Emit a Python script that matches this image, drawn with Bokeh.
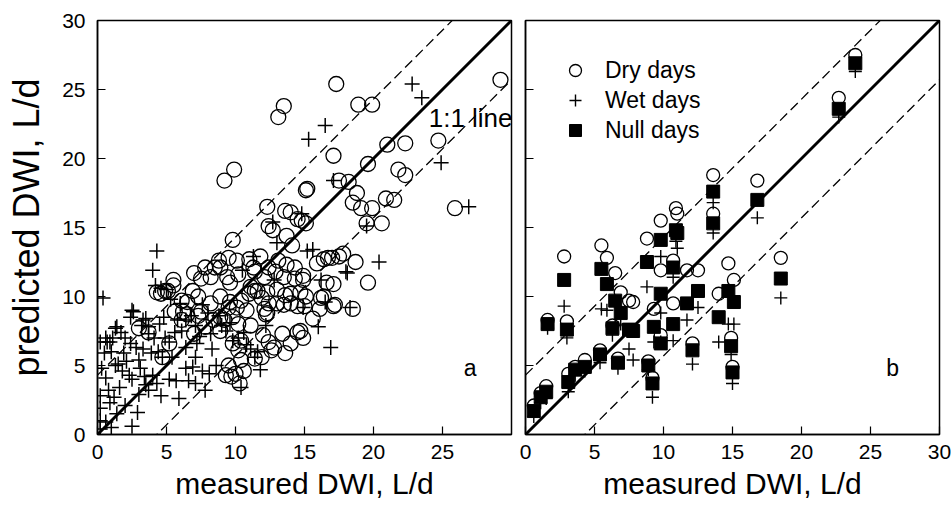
from bokeh.plotting import figure
from bokeh.layouts import row
from bokeh.models import Range1d, FixedTicker, Legend, LegendItem, Label
from bokeh.embed import file_html
from bokeh.resources import INLINE

FONT = "Liberation Sans"

# ---------------- data: panel a (individual days) ----------------
dry_measured = [13.5, 13.1, 9.9, 9.2, 15.1, 17.3, 18.9, 19.9, 29.2, 17.1,
                21.0, 22.3, 24.7, 19.6, 21.8, 22.3, 15.2, 17.5, 18.2, 18.8,
                18.5, 19.1, 19.9, 20.9, 21.5, 25.9, 19.5, 20.6, 12.3, 13.6,
                14.0, 14.5, 14.8, 15.1, 12.4, 12.7, 13.7, 9.8, 14.1, 8.8,
                9.5, 10.1, 11.0, 11.8, 11.3, 12.4, 13.1, 13.7, 14.3, 15.9,
                16.4, 17.0, 17.5, 17.8, 16.7, 18.7, 8.9, 7.8, 8.5, 8.2,
                9.4, 10.2, 11.4, 12.1, 12.9, 13.5, 14.3, 14.9, 16.6, 17.1,
                19.6, 5.5, 7.0, 7.5, 9.6, 14.9, 11.1, 11.6, 12.3, 13.0,
                13.6, 14.0, 14.7, 15.1, 16.4, 17.2, 4.3, 7.3, 6.5, 8.9,
                5.1, 4.6, 5.5, 4.9, 6.9, 6.1, 8.2, 9.6, 10.1, 10.8,
                12.1, 12.3, 13.0, 13.5, 14.0, 14.5, 15.0, 16.1, 6.2, 7.5,
                16.2, 17.1, 18.5, 9.5, 10.4, 11.0, 11.4, 11.9, 12.4, 9.2,
                9.8, 10.2, 11.1, 6.1, 6.5, 5.6, 7.3, 8.4, 8.9, 12.2,
                7.8, 12.4, 12.8, 13.4, 14.0, 14.5, 14.7, 3.0, 7.0, 12.0,
                8.9, 9.8, 10.2, 10.4, 9.5, 10.0, 10.6, 11.4, 12.6, 9.3,
                10.4, 13.6, 11.9, 5.2, 4.7, 9.7, 10.3, 14.9, 15.6, 3.7]
dry_predicted = [23.8, 23.0, 19.2, 18.4, 17.7, 25.4, 23.9, 23.9, 25.7, 20.2,
                 21.0, 21.1, 21.3, 19.6, 19.2, 18.8, 17.8, 18.4, 18.3, 17.5,
                 16.8, 16.4, 16.4, 17.1, 17.0, 16.4, 15.3, 15.3, 16.5, 16.2,
                 16.1, 15.6, 15.5, 15.3, 15.1, 14.8, 14.4, 14.1, 13.7, 12.6,
                 12.8, 12.6, 12.7, 12.9, 12.1, 12.1, 12.6, 12.3, 12.1, 12.4,
                 12.7, 12.8, 12.9, 13.1, 12.8, 12.5, 12.1, 12.1, 12.1, 11.4,
                 11.4, 11.6, 11.8, 11.4, 11.8, 11.4, 11.3, 11.5, 11.0, 10.9,
                 11.0, 11.2, 11.7, 11.3, 11.0, 11.2, 10.7, 10.4, 10.3, 10.5,
                 10.1, 10.2, 10.3, 10.0, 10.0, 9.4, 10.3, 10.0, 9.6, 10.0,
                 10.4, 10.2, 10.8, 10.4, 10.4, 9.7, 9.5, 9.6, 9.2, 9.0,
                 9.1, 8.8, 9.5, 9.4, 9.5, 9.3, 9.3, 9.1, 8.9, 8.9,
                 9.9, 9.3, 9.1, 9.2, 9.7, 10.2, 10.4, 9.9, 9.5, 8.3,
                 8.5, 8.0, 7.9, 8.3, 8.7, 8.9, 8.6, 8.3, 8.5, 8.7,
                 7.8, 6.7, 6.3, 7.3, 6.6, 7.4, 7.5, 7.7, 7.3, 7.2,
                 7.5, 6.6, 6.1, 5.4, 5.0, 4.4, 4.6, 5.5, 6.1, 4.3,
                 6.8, 5.9, 5.6, 6.6, 5.6, 4.2, 3.7, 7.0, 8.4, 7.4]

wet_measured = [15.3, 22.8, 23.5, 16.5, 24.9, 17.1, 26.9, 14.8, 13.0, 15.2,
                15.6, 12.7, 20.4, 18.1, 16.2, 16.0, 16.9, 18.0, 18.3, 19.5,
                4.3, 4.0, 4.2, 4.6, 5.0, 0.4, 2.6, 3.5, 1.3, 1.7,
                0.2, 0.7, 0.9, 2.4, 2.8, 3.7, 4.1, 4.9, 5.2, 4.4,
                4.7, 0.3, 1.3, 1.5, 3.0, 3.1, 2.3, 2.5, 1.6, 0.8,
                1.2, 0.9, 0.2, 0.2, 3.7, 3.5, 3.0, 2.9, 2.5, 0.2,
                5.9, 5.2, 5.7, 6.4, 6.6, 7.1, 7.6, 7.8, 6.4, 7.1,
                5.4, 8.2, 9.0, 8.3, 8.6, 9.3, 9.8, 10.2, 10.4, 11.1,
                11.4, 6.4, 7.1, 5.3, 4.8, 6.0, 10.6, 11.6, 14.9, 16.5,
                11.3, 10.5, 12.8, 1.0, 0.2, 1.9, 3.3, 2.0, 4.0, 6.1,
                7.2, 8.0, 0.5, 1.0, 2.0, 3.2, 4.5, 5.6, 6.8, 7.6,
                5.8, 3.9, 2.1, 0.6, 1.8, 3.4, 4.3, 1.4, 0.6, 4.6,
                6.9, 8.1, 7.4, 8.8, 9.6, 10.8, 12.2, 11.8, 2.4, 3.3,
                3.7, 1.4, 0.6, 1.1, 2.5]
wet_predicted = [21.4, 25.4, 24.4, 22.4, 19.7, 18.4, 16.5, 16.0, 13.9, 13.3,
                 13.4, 15.4, 12.5, 11.7, 11.2, 7.8, 6.3, 11.8, 9.2, 15.1,
                 13.3, 11.9, 10.8, 10.6, 10.5, 9.9, 8.9, 8.4, 7.7, 7.4,
                 6.7, 6.7, 6.7, 6.6, 6.3, 7.3, 7.0, 7.0, 6.7, 6.0,
                 5.6, 4.8, 5.0, 5.1, 5.4, 4.8, 4.3, 4.0, 3.4, 3.2,
                 2.7, 2.3, 2.8, 1.9, 3.2, 3.6, 2.9, 1.6, 0.6, 1.0,
                 2.6, 4.0, 3.9, 4.8, 3.9, 3.7, 4.6, 3.2, 6.3, 5.6,
                 5.6, 7.3, 7.9, 6.2, 5.0, 7.5, 6.8, 7.0, 3.4, 6.2,
                 5.6, 8.3, 7.9, 9.8, 8.5, 9.5, 7.4, 6.0, 9.2, 9.6,
                 12.9, 11.9, 11.2, 0.5, 0.4, 5.9, 6.2, 2.1, 4.3, 7.5,
                 6.6, 8.8, 5.9, 6.0, 7.0, 7.9, 8.0, 7.4, 8.6, 9.4,
                 8.3, 5.9, 5.3, 4.1, 4.6, 4.2, 3.7, 1.5, 0.9, 2.8,
                 4.9, 4.4, 7.1, 8.6, 8.1, 6.5, 7.9, 4.7, 8.5, 8.3,
                 7.8, 7.8, 7.0, 7.0, 9.0]

# ---------------- data: panel b (per subject) ----------------
measured_b = [0.6, 1.1, 1.5, 1.6, 2.8, 3.0, 3.1, 3.6, 4.3, 5.4,
              5.5, 5.9, 6.5, 6.9, 6.3, 7.5, 7.8, 6.7, 8.8, 9.3,
              8.9, 9.2, 9.8, 10.9, 11.0, 9.8, 10.7, 10.7, 11.7, 12.5,
              12.1, 9.8, 13.6, 13.6, 14.7, 15.1, 14.0, 14.9, 15.0, 16.8,
              18.5, 22.7, 23.9]
dry_b = [2.1, 3.0, 3.5, 8.3, 12.9, 8.2, 4.4, 4.9, 5.4, 6.1,
         13.7, 12.8, 11.7, 10.3, 7.9, 9.7, 9.6, 5.5, 14.2, 9.1,
         5.3, 4.1, 15.5, 16.4, 16.0, 11.9, 12.6, 9.5, 11.9, 11.9,
         6.6, 7.2, 18.8, 16.0, 12.4, 11.2, 10.2, 7.0, 4.9, 18.4,
         12.8, 24.4, 27.5]
null_b = [1.7, 2.7, 3.1, 8.0, 11.2, 7.6, 3.8, 4.7, 4.9, 5.8,
          12.0, 10.9, 9.7, 8.8, 7.7, 7.6, 7.5, 5.2, 12.5, 7.8,
          5.0, 3.7, 14.1, 14.8, 14.6, 10.2, 12.1, 8.0, 9.5, 10.4,
          6.1, 6.6, 17.6, 15.3, 10.4, 9.6, 8.5, 6.4, 4.5, 17.0,
          11.3, 23.6, 26.9]
wet_b = [1.3, 2.3, 2.6, 7.7, 9.3, 7.0, 3.1, 4.3, 4.6, 5.2,
         9.1, 9.0, 7.9, 8.0, 7.2, 6.2, 5.4, 4.8, 10.7, 6.7,
         4.7, 2.7, 12.9, 14.0, 13.5, 8.8, 11.4, 6.8, 8.3, 9.2,
         5.1, 6.7, 16.8, 14.6, 8.0, 8.0, 6.7, 5.8, 3.7, 15.7,
         9.9, 23.0, 26.3]

# reference lines
ref_x = [0, 30]
band = 4.3
axis_ticks = [0, 5, 10, 15, 20, 25, 30]
xticks_a = [0, 5, 10, 15, 20, 25]
series_labels = ["Dry days", "Wet days", "Null days"]


def base_fig(width, border_left, border_right):
    p = figure(width=width, height=506,
               min_border_left=border_left, min_border_right=border_right,
               min_border_top=20, min_border_bottom=72,
               x_range=Range1d(0, 30), y_range=Range1d(0, 30),
               output_backend="svg", toolbar_location=None)
    p.grid.visible = False
    p.outline_line_color = "black"
    p.outline_line_width = 1.5
    p.background_fill_color = "white"
    p.border_fill_color = "white"
    for ax in (p.xaxis[0], p.yaxis[0]):
        ax.axis_line_color = "black"
        ax.axis_line_width = 1.5
        ax.major_tick_in = 8
        ax.major_tick_out = 0
        ax.major_tick_line_width = 1.2
        ax.minor_tick_line_color = None
        ax.major_label_text_font = FONT
        ax.major_label_text_font_size = "21px"
        ax.major_label_text_color = "black"
        ax.axis_label_text_font = FONT
        ax.axis_label_text_font_size = "30px"
        ax.axis_label_text_font_style = "normal"
        ax.axis_label_text_color = "black"
    p.xaxis.axis_label = "measured DWI, L/d"
    p.xaxis.major_label_standoff = 10
    p.xaxis.axis_label_standoff = 5
    return p


def ref_lines(p):
    p.line(ref_x, ref_x, line_color="black", line_width=3)
    p.line(ref_x, [v + band for v in ref_x], line_color="black",
           line_width=1.3, line_dash="10 5")
    p.line(ref_x, [v - band for v in ref_x], line_color="black",
           line_width=1.3, line_dash="10 5")


# ---------------- panel a ----------------
pa = base_fig(518, 97, 7)
pa.xaxis.ticker = FixedTicker(ticks=xticks_a)
pa.yaxis.ticker = FixedTicker(ticks=axis_ticks)
pa.yaxis.axis_label = "predicted DWI, L/d"
pa.yaxis.axis_label_text_font_size = "36px"
pa.yaxis.major_label_standoff = 12
pa.yaxis.axis_label_standoff = 12

pa.scatter(dry_measured, dry_predicted, marker="circle", size=15,
           fill_color=None, line_color="black", line_width=1.3)
pa.scatter(wet_measured, wet_predicted, marker="cross", size=15,
           line_color="black", line_width=1.5)
ref_lines(pa)
pa.add_layout(Label(x=24.0, y=22.9, text="1:1 line", text_font=FONT,
                    text_font_size="26px", text_baseline="middle",
                    text_align="left", text_color="black"))
pa.add_layout(Label(x=27.0, y=4.8, text="a", text_font=FONT,
                    text_font_size="23px", text_baseline="middle",
                    text_align="center", text_color="black"))

# ---------------- panel b ----------------
pb = base_fig(433, 7, 12)
pb.xaxis.ticker = FixedTicker(ticks=axis_ticks)
pb.yaxis.ticker = FixedTicker(ticks=axis_ticks)
pb.yaxis.major_label_overrides = {t: "" for t in axis_ticks}
pb.yaxis.major_label_standoff = 0

ref_lines(pb)
r_dry = pb.scatter(measured_b, dry_b, marker="circle", size=13,
                   fill_color=None, line_color="black", line_width=1.3)
r_null = pb.scatter(measured_b, null_b, marker="square", size=13,
                    fill_color="black", line_color="black", line_width=1)
r_wet = pb.scatter(measured_b, wet_b, marker="cross", size=13,
                   line_color="black", line_width=1.4)
pb.add_layout(Label(x=26.6, y=4.8, text="b", text_font=FONT,
                    text_font_size="23px", text_baseline="middle",
                    text_align="center", text_color="black"))

legend = Legend(items=[LegendItem(label=series_labels[0], renderers=[r_dry]),
                       LegendItem(label=series_labels[1], renderers=[r_wet]),
                       LegendItem(label=series_labels[2], renderers=[r_null])],
                location="top_left", glyph_width=30, glyph_height=30,
                spacing=0, padding=10, margin=25, label_standoff=15,
                label_text_font=FONT, label_text_font_size="23px",
                label_text_color="black", border_line_alpha=0,
                background_fill_alpha=0)
pb.add_layout(legend)

layout = row(pa, pb)
open("out.html", "w").write(file_html(layout, INLINE))
